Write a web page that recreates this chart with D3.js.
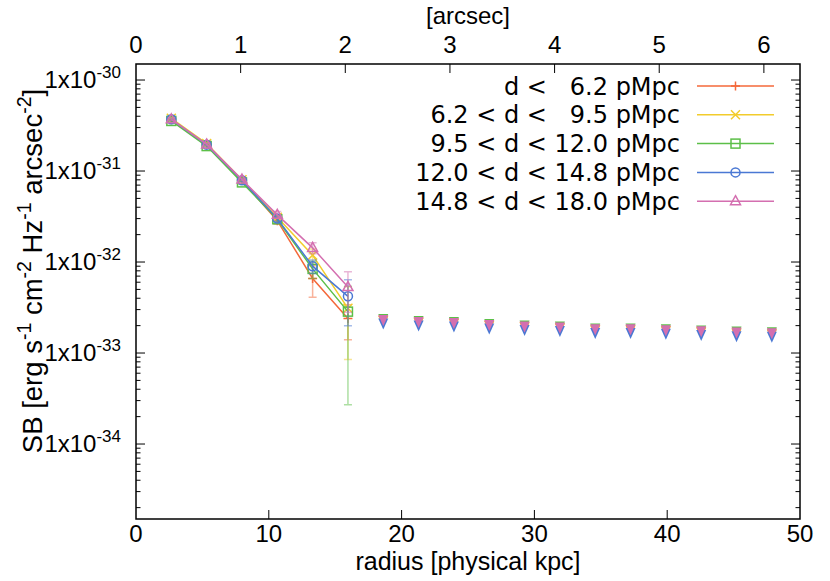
<!DOCTYPE html>
<html><head><meta charset="utf-8">
<script src="https://cdn.jsdelivr.net/npm/d3@7"></script>
<style>
body{margin:0;background:#fff}
svg{display:block}
text{font-family:"Liberation Sans",Arial,Helvetica,sans-serif;fill:#000}
</style>
</head><body>
<svg id="chart" width="830" height="581"></svg>
<script>
// ---------------- data ----------------
const radius   = [2.66, 5.32, 7.98, 10.64, 13.30, 15.96];              // kpc, detections
const ulRadius = [18.62, 21.28, 23.94, 26.60, 29.26, 31.92, 34.58, 37.24, 39.90, 42.56, 45.22, 47.88]; // kpc, upper limits

const seriesNames  = ["d <   6.2 pMpc", "6.2 < d <   9.5 pMpc", "9.5 < d < 12.0 pMpc", "12.0 < d < 14.8 pMpc", "14.8 < d < 18.0 pMpc"];
const seriesColors = ["#f4683a", "#f2cc2c", "#5cbf48", "#4a78d4", "#d46fb0"];
const seriesMarks  = ["plus", "cross", "square", "circle", "triangle"];

const sb1  = [3.65e-31, 1.97e-31, 7.9e-32, 2.85e-32, 6.6e-33, 2.4e-33];
const err1 = [1.5e-32, 7e-33, 2.5e-33, 2.5e-33, 2.5e-33, 1.0e-33];
const sb2  = [3.8e-31, 2.0e-31, 8.0e-32, 3.1e-32, 1.19e-32, 3.1e-33];
const err2 = [1.5e-32, 7e-33, 3e-33, 2e-33, 2e-33, 2.25e-33];
const sb3  = [3.55e-31, 1.88e-31, 7.5e-32, 2.95e-32, 8.4e-33, 2.85e-33];
const err3 = [1e-32, 6e-33, 2.5e-33, 2e-33, 1.8e-33, 2.58e-33];
const sb4  = [3.7e-31, 1.95e-31, 7.9e-32, 3.0e-32, 9.0e-33, 4.2e-33];
const err4 = [1e-32, 6e-33, 2.5e-33, 2e-33, 1.5e-33, 2.2e-33];
const sb5  = [3.7e-31, 1.96e-31, 8.05e-32, 3.3e-32, 1.43e-32, 5.3e-33];
const err5 = [1e-32, 6e-33, 2.5e-33, 3e-33, 2e-33, 2.5e-33];

const ul1 = [2.25e-33, 2.14e-33, 2.09e-33, 1.98e-33, 1.91e-33, 1.86e-33, 1.77e-33, 1.77e-33, 1.73e-33, 1.68e-33, 1.63e-33, 1.60e-33];
const ul2 = [2.27e-33, 2.16e-33, 2.11e-33, 2.00e-33, 1.93e-33, 1.88e-33, 1.79e-33, 1.79e-33, 1.75e-33, 1.70e-33, 1.65e-33, 1.62e-33];
const ul3 = [2.36e-33, 2.25e-33, 2.19e-33, 2.08e-33, 2.01e-33, 1.96e-33, 1.86e-33, 1.86e-33, 1.82e-33, 1.77e-33, 1.72e-33, 1.69e-33];
const ul4 = [2.11e-33, 2.01e-33, 1.96e-33, 1.86e-33, 1.79e-33, 1.75e-33, 1.66e-33, 1.66e-33, 1.63e-33, 1.58e-33, 1.53e-33, 1.51e-33];
const ul5 = [2.30e-33, 2.19e-33, 2.14e-33, 2.03e-33, 1.96e-33, 1.91e-33, 1.82e-33, 1.82e-33, 1.78e-33, 1.73e-33, 1.68e-33, 1.65e-33];

const xTicks = [0, 10, 20, 30, 40, 50];
const arcsecTicks = [0, 1, 2, 3, 4, 5, 6];
const kpcPerArcsec = 7.88;
const yExponents = [-34, -33, -32, -31, -30];
const xDomain = [0, 50];
const yDomain = [1.5e-35, 1.5e-30];

const series = seriesNames.map((n, i) => ({
  name: n, color: seriesColors[i], mark: seriesMarks[i],
  sb: [sb1, sb2, sb3, sb4, sb5][i], err: [err1, err2, err3, err4, err5][i],
  ul: [ul1, ul2, ul3, ul4, ul5][i]
}));

// ---------------- layout ----------------
const L = 136, R = 800, T = 64, B = 519;
const svg = d3.select("#chart");
const x = d3.scaleLinear().domain(xDomain).range([L, R]);
const xTop = d3.scaleLinear().domain([0, xDomain[1] / kpcPerArcsec]).range([L, R]);
const y = d3.scaleLog().domain(yDomain).range([B, T]);
const FS = 24;

// ticks
const tickG = svg.append("g").attr("stroke", "#000").attr("stroke-width", 1);
xTicks.forEach(t => {
  if (t > xDomain[0] && t < xDomain[1]) {
    tickG.append("line").attr("x1", x(t)).attr("x2", x(t)).attr("y1", B).attr("y2", B - 9);
  }
});
arcsecTicks.forEach(t => {
  if (t > 0) tickG.append("line").attr("x1", xTop(t)).attr("x2", xTop(t)).attr("y1", T).attr("y2", T + 9);
});
const lo = Math.floor(Math.log10(yDomain[0])), hi = Math.ceil(Math.log10(yDomain[1]));
for (let e = lo; e <= hi; e++) {
  for (let m = 1; m <= 9; m++) {
    const v = m * Math.pow(10, e);
    if (v < yDomain[0] || v > yDomain[1]) continue;
    const len = m === 1 ? 9 : 4.5;
    const yy = y(v);
    tickG.append("line").attr("x1", L).attr("x2", L + len).attr("y1", yy).attr("y2", yy);
    tickG.append("line").attr("x1", R).attr("x2", R - len).attr("y1", yy).attr("y2", yy);
  }
}

// tick labels
const lab = svg.append("g").style("font-size", FS + "px");
xTicks.forEach(t => {
  lab.append("text").attr("x", x(t)).attr("y", B + 23).attr("text-anchor", "middle").text(t);
});
arcsecTicks.forEach(t => {
  lab.append("text").attr("x", xTop(t)).attr("y", T - 11).attr("text-anchor", "middle").text(t);
});
yExponents.forEach(e => {
  const t = lab.append("text").attr("x", 121).attr("y", y(Math.pow(10, e)) + 8).attr("text-anchor", "end");
  t.append("tspan").text("1x10");
  t.append("tspan").attr("dy", -10).style("font-size", "17px").text(String(e));
});

// axis titles
svg.append("text").attr("x", 468).attr("y", 570).attr("text-anchor", "middle")
  .style("font-size", "25px").text("radius [physical kpc]");
svg.append("text").attr("x", (L + R) / 2).attr("y", 24).attr("text-anchor", "middle")
  .style("font-size", FS + "px").text("[arcsec]");
const yt = svg.append("text").attr("transform", "translate(42,271) rotate(-90)")
  .attr("text-anchor", "middle").style("font-size", "27.5px");
const ytParts = [["SB [erg s", null], ["-1", "sup"], [" cm", null], ["-2", "sup"], [" Hz", null], ["-1", "sup"], [" arcsec", null], ["-2", "sup"], ["]", null]];
ytParts.forEach(([s, k], i) => {
  const ts = yt.append("tspan").text(s);
  if (k === "sup") ts.attr("dy", -11).style("font-size", "19.5px");
  else if (i > 0) ts.attr("dy", 11);
});

// ---------------- markers ----------------
function drawMark(g, kind, cx, cy, color) {
  const s = 4.5;
  if (kind === "plus") {
    g.append("path").attr("d", `M${cx - s},${cy}H${cx + s}M${cx},${cy - s}V${cy + s}`)
      .attr("stroke", color).attr("stroke-width", 1.5).attr("fill", "none");
  } else if (kind === "cross") {
    g.append("path").attr("d", `M${cx - s},${cy - s}L${cx + s},${cy + s}M${cx - s},${cy + s}L${cx + s},${cy - s}`)
      .attr("stroke", color).attr("stroke-width", 1.5).attr("fill", "none");
  } else if (kind === "square") {
    g.append("rect").attr("x", cx - s).attr("y", cy - s).attr("width", 2 * s).attr("height", 2 * s)
      .attr("stroke", color).attr("stroke-width", 1.5).attr("fill", "none");
  } else if (kind === "circle") {
    g.append("circle").attr("cx", cx).attr("cy", cy).attr("r", s)
      .attr("stroke", color).attr("stroke-width", 1.5).attr("fill", "none");
  } else if (kind === "triangle") {
    g.append("path").attr("d", `M${cx},${cy - s - 1}L${cx + s + 0.5},${cy + s - 1}L${cx - s - 0.5},${cy + s - 1}Z`)
      .attr("stroke", color).attr("stroke-width", 1.5).attr("fill", "none");
  }
}

// ---------------- data ----------------
const plot = svg.append("g");
const line = d3.line().x(d => x(d[0])).y(d => y(d[1]));
series.forEach(s => {
  const g = plot.append("g");
  const pts = radius.map((r, i) => [r, s.sb[i], s.err[i]]);
  pts.forEach(([r, v, e]) => {
    const lo = Math.max(v - e, yDomain[0]);
    const px = x(r);
    g.append("path").attr("d", `M${px},${y(v + e)}V${y(lo)}M${px - 4},${y(v + e)}H${px + 4}M${px - 4},${y(lo)}H${px + 4}`)
      .attr("stroke", s.color).attr("stroke-opacity", 0.5).attr("stroke-width", 1.5).attr("fill", "none");
  });
  g.append("path").attr("d", line(pts)).attr("stroke", s.color).attr("stroke-width", 1.5).attr("fill", "none");
  pts.forEach(([r, v]) => drawMark(g, s.mark, x(r), y(v), s.color));
});
series.forEach(s => {
  const g = plot.append("g");
  ulRadius.forEach((r, i) => {
    const cx = x(r), cy = y(s.ul[i]);
    g.append("path").attr("d", `M${cx - 5},${cy - 5}L${cx + 5},${cy - 5}L${cx},${cy + 6}Z`).attr("fill", s.color);
  });
});

// border
svg.append("rect").attr("x", L).attr("y", T).attr("width", R - L).attr("height", B - T)
  .attr("fill", "none").attr("stroke", "#000").attr("stroke-width", 1.5);

// ---------------- legend ----------------
const leg = svg.append("g").style("font-size", "24px");
series.forEach((s, i) => {
  const ly = 86 + i * 28.8;
  leg.append("text").attr("x", 680).attr("y", ly + 8.5).attr("text-anchor", "end")
    .style("font-family", "'DejaVu Sans', sans-serif")
    .style("white-space", "pre").attr("xml:space", "preserve").text(s.name);
  leg.append("line").attr("x1", 697).attr("x2", 774).attr("y1", ly).attr("y2", ly)
    .attr("stroke", s.color).attr("stroke-width", 1.5);
  drawMark(leg, s.mark, 735.5, ly, s.color);
});
</script>
</body></html>
